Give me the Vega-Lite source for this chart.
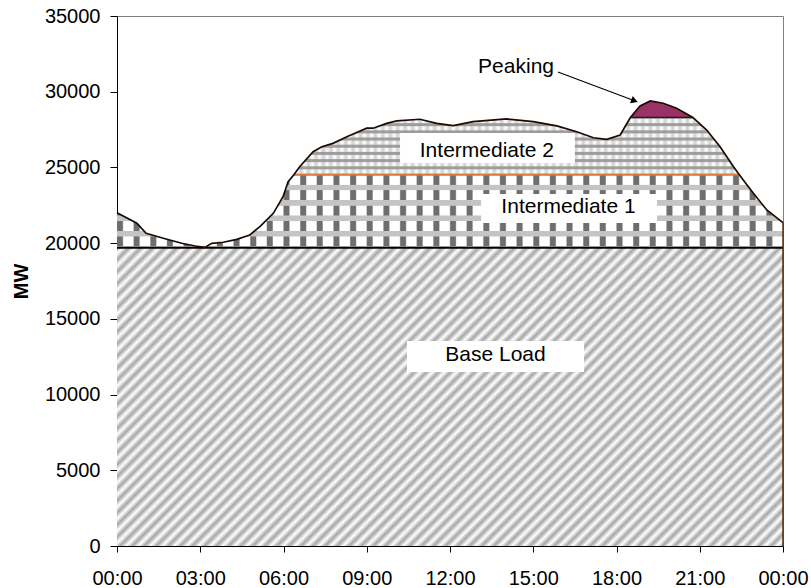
{
"$schema": "https://vega.github.io/schema/vega-lite/v6.json",
"width": 666, "height": 530,
"autosize": {"type": "none"},
"padding": {"left": 117, "top": 16, "right": 28, "bottom": 42},
"background": "white",
"config": {
  "view": {"stroke": "#808080", "strokeWidth": 1},
  "axis": {"labelFont": "Liberation Sans", "labelFontSize": 20, "labelColor": "#000", "tickColor": "#000", "domainColor": "#000", "grid": false, "labelFlush": false, "titleFont": "Liberation Sans", "titleColor": "#000"}
},
"datasets": {"load": [
{"h":0,"load":22010,"i1":22010,"i2":22010,"base":19700},
{"h":0.717,"load":21310,"i1":21310,"i2":21310,"base":19700},
{"h":1.05,"load":20650,"i1":20650,"i2":20650,"base":19700},
{"h":1.667,"load":20320,"i1":20320,"i2":20320,"base":19700},
{"h":2.333,"load":19990,"i1":19990,"i2":19990,"base":19700},
{"h":2.817,"load":19810,"i1":19810,"i2":19810,"base":19700},
{"h":3.167,"load":19720,"i1":19720,"i2":19720,"base":19700},
{"h":3.417,"load":19990,"i1":19990,"i2":19990,"base":19700},
{"h":3.833,"load":20060,"i1":20060,"i2":20060,"base":19700},
{"h":4.317,"load":20250,"i1":20250,"i2":20250,"base":19700},
{"h":4.783,"load":20540,"i1":20540,"i2":20540,"base":19700},
{"h":5.15,"load":21090,"i1":21090,"i2":21090,"base":19700},
{"h":5.633,"load":21970,"i1":21970,"i2":21970,"base":19700},
{"h":5.983,"load":23070,"i1":23070,"i2":23070,"base":19700},
{"h":6.167,"load":24060,"i1":24060,"i2":24060,"base":19700},
{"h":6.367,"load":24500,"i1":24500,"i2":24500,"base":19700},
{"h":6.583,"load":25050,"i1":24500,"i2":25050,"base":19700},
{"h":7.067,"load":26040,"i1":24500,"i2":26040,"base":19700},
{"h":7.383,"load":26370,"i1":24500,"i2":26370,"base":19700},
{"h":7.783,"load":26590,"i1":24500,"i2":26590,"base":19700},
{"h":8.283,"load":27030,"i1":24500,"i2":27030,"base":19700},
{"h":9,"load":27590,"i1":24500,"i2":27590,"base":19700},
{"h":9.233,"load":27590,"i1":24500,"i2":27590,"base":19700},
{"h":9.717,"load":27910,"i1":24500,"i2":27910,"base":19700},
{"h":10.083,"load":28070,"i1":24500,"i2":28070,"base":19700},
{"h":10.917,"load":28180,"i1":24500,"i2":28180,"base":19700},
{"h":11.517,"load":27910,"i1":24500,"i2":27910,"base":19700},
{"h":12.117,"load":27760,"i1":24500,"i2":27760,"base":19700},
{"h":12.833,"load":28020,"i1":24500,"i2":28020,"base":19700},
{"h":14.033,"load":28200,"i1":24500,"i2":28200,"base":19700},
{"h":15,"load":28020,"i1":24500,"i2":28020,"base":19700},
{"h":15.85,"load":27740,"i1":24500,"i2":27740,"base":19700},
{"h":16.567,"load":27360,"i1":24500,"i2":27360,"base":19700},
{"h":17.167,"load":26960,"i1":24500,"i2":26960,"base":19700},
{"h":17.65,"load":26860,"i1":24500,"i2":26860,"base":19700},
{"h":18.133,"load":27140,"i1":24500,"i2":27140,"base":19700},
{"h":18.5,"load":28300,"i1":24500,"i2":28300,"base":19700},
{"h":18.85,"load":29060,"i1":24500,"i2":28300,"base":19700},
{"h":19.217,"load":29390,"i1":24500,"i2":28300,"base":19700},
{"h":19.683,"load":29240,"i1":24500,"i2":28300,"base":19700},
{"h":20.167,"load":28910,"i1":24500,"i2":28300,"base":19700},
{"h":20.75,"load":28300,"i1":24500,"i2":28300,"base":19700},
{"h":21.25,"load":27470,"i1":24500,"i2":27470,"base":19700},
{"h":21.733,"load":26370,"i1":24500,"i2":26370,"base":19700},
{"h":22.217,"load":25050,"i1":24500,"i2":25050,"base":19700},
{"h":22.433,"load":24500,"i1":24500,"i2":24500,"base":19700},
{"h":22.567,"load":24170,"i1":24170,"i2":24170,"base":19700},
{"h":22.933,"load":23290,"i1":23290,"i2":23290,"base":19700},
{"h":23.417,"load":22190,"i1":22190,"i2":22190,"base":19700},
{"h":23.95,"load":21420,"i1":21420,"i2":21420,"base":19700},
{"h":24,"load":21350,"i1":21350,"i2":21350,"base":19700}
]},
"data": {"name": "load"},
"encoding": {
  "x": {"field": "h", "type": "quantitative", "title": null,
        "scale": {"domain": [0, 24], "nice": false, "zero": false},
        "axis": {"values": [0,3,6,9,12,15,18,21,24], "labelExpr": "(datum.value % 24 < 10 ? '0' : '') + (datum.value % 24) + ':00'", "tickSize": 6, "labelPadding": 16, "labelOverlap": false}}
},
"layer": [
{"mark": {"type": "area", "opacity": 1, "fill": {"gradient": "linear", "x1": 0, "y1": 0, "x2": 1.206, "y2": 0.54, "stops": [
{"offset":0,"color":"#a6a6a6"},{"offset":0.00625,"color":"#fff"},{"offset":0.0125,"color":"#a6a6a6"},{"offset":0.01875,"color":"#fff"},{"offset":0.025,"color":"#a6a6a6"},{"offset":0.03125,"color":"#fff"},{"offset":0.0375,"color":"#a6a6a6"},{"offset":0.04375,"color":"#fff"},
{"offset":0.05,"color":"#a6a6a6"},{"offset":0.05625,"color":"#fff"},{"offset":0.0625,"color":"#a6a6a6"},{"offset":0.06875,"color":"#fff"},{"offset":0.075,"color":"#a6a6a6"},{"offset":0.08125,"color":"#fff"},{"offset":0.0875,"color":"#a6a6a6"},{"offset":0.09375,"color":"#fff"},
{"offset":0.1,"color":"#a6a6a6"},{"offset":0.10625,"color":"#fff"},{"offset":0.1125,"color":"#a6a6a6"},{"offset":0.11875,"color":"#fff"},{"offset":0.125,"color":"#a6a6a6"},{"offset":0.13125,"color":"#fff"},{"offset":0.1375,"color":"#a6a6a6"},{"offset":0.14375,"color":"#fff"},
{"offset":0.15,"color":"#a6a6a6"},{"offset":0.15625,"color":"#fff"},{"offset":0.1625,"color":"#a6a6a6"},{"offset":0.16875,"color":"#fff"},{"offset":0.175,"color":"#a6a6a6"},{"offset":0.18125,"color":"#fff"},{"offset":0.1875,"color":"#a6a6a6"},{"offset":0.19375,"color":"#fff"},
{"offset":0.2,"color":"#a6a6a6"},{"offset":0.20625,"color":"#fff"},{"offset":0.2125,"color":"#a6a6a6"},{"offset":0.21875,"color":"#fff"},{"offset":0.225,"color":"#a6a6a6"},{"offset":0.23125,"color":"#fff"},{"offset":0.2375,"color":"#a6a6a6"},{"offset":0.24375,"color":"#fff"},
{"offset":0.25,"color":"#a6a6a6"},{"offset":0.25625,"color":"#fff"},{"offset":0.2625,"color":"#a6a6a6"},{"offset":0.26875,"color":"#fff"},{"offset":0.275,"color":"#a6a6a6"},{"offset":0.28125,"color":"#fff"},{"offset":0.2875,"color":"#a6a6a6"},{"offset":0.29375,"color":"#fff"},
{"offset":0.3,"color":"#a6a6a6"},{"offset":0.30625,"color":"#fff"},{"offset":0.3125,"color":"#a6a6a6"},{"offset":0.31875,"color":"#fff"},{"offset":0.325,"color":"#a6a6a6"},{"offset":0.33125,"color":"#fff"},{"offset":0.3375,"color":"#a6a6a6"},{"offset":0.34375,"color":"#fff"},
{"offset":0.35,"color":"#a6a6a6"},{"offset":0.35625,"color":"#fff"},{"offset":0.3625,"color":"#a6a6a6"},{"offset":0.36875,"color":"#fff"},{"offset":0.375,"color":"#a6a6a6"},{"offset":0.38125,"color":"#fff"},{"offset":0.3875,"color":"#a6a6a6"},{"offset":0.39375,"color":"#fff"},
{"offset":0.4,"color":"#a6a6a6"},{"offset":0.40625,"color":"#fff"},{"offset":0.4125,"color":"#a6a6a6"},{"offset":0.41875,"color":"#fff"},{"offset":0.425,"color":"#a6a6a6"},{"offset":0.43125,"color":"#fff"},{"offset":0.4375,"color":"#a6a6a6"},{"offset":0.44375,"color":"#fff"},
{"offset":0.45,"color":"#a6a6a6"},{"offset":0.45625,"color":"#fff"},{"offset":0.4625,"color":"#a6a6a6"},{"offset":0.46875,"color":"#fff"},{"offset":0.475,"color":"#a6a6a6"},{"offset":0.48125,"color":"#fff"},{"offset":0.4875,"color":"#a6a6a6"},{"offset":0.49375,"color":"#fff"},
{"offset":0.5,"color":"#a6a6a6"},{"offset":0.50625,"color":"#fff"},{"offset":0.5125,"color":"#a6a6a6"},{"offset":0.51875,"color":"#fff"},{"offset":0.525,"color":"#a6a6a6"},{"offset":0.53125,"color":"#fff"},{"offset":0.5375,"color":"#a6a6a6"},{"offset":0.54375,"color":"#fff"},
{"offset":0.55,"color":"#a6a6a6"},{"offset":0.55625,"color":"#fff"},{"offset":0.5625,"color":"#a6a6a6"},{"offset":0.56875,"color":"#fff"},{"offset":0.575,"color":"#a6a6a6"},{"offset":0.58125,"color":"#fff"},{"offset":0.5875,"color":"#a6a6a6"},{"offset":0.59375,"color":"#fff"},
{"offset":0.6,"color":"#a6a6a6"},{"offset":0.60625,"color":"#fff"},{"offset":0.6125,"color":"#a6a6a6"},{"offset":0.61875,"color":"#fff"},{"offset":0.625,"color":"#a6a6a6"},{"offset":0.63125,"color":"#fff"},{"offset":0.6375,"color":"#a6a6a6"},{"offset":0.64375,"color":"#fff"},
{"offset":0.65,"color":"#a6a6a6"},{"offset":0.65625,"color":"#fff"},{"offset":0.6625,"color":"#a6a6a6"},{"offset":0.66875,"color":"#fff"},{"offset":0.675,"color":"#a6a6a6"},{"offset":0.68125,"color":"#fff"},{"offset":0.6875,"color":"#a6a6a6"},{"offset":0.69375,"color":"#fff"},
{"offset":0.7,"color":"#a6a6a6"},{"offset":0.70625,"color":"#fff"},{"offset":0.7125,"color":"#a6a6a6"},{"offset":0.71875,"color":"#fff"},{"offset":0.725,"color":"#a6a6a6"},{"offset":0.73125,"color":"#fff"},{"offset":0.7375,"color":"#a6a6a6"},{"offset":0.74375,"color":"#fff"},
{"offset":0.75,"color":"#a6a6a6"},{"offset":0.75625,"color":"#fff"},{"offset":0.7625,"color":"#a6a6a6"},{"offset":0.76875,"color":"#fff"},{"offset":0.775,"color":"#a6a6a6"},{"offset":0.78125,"color":"#fff"},{"offset":0.7875,"color":"#a6a6a6"},{"offset":0.79375,"color":"#fff"},
{"offset":0.8,"color":"#a6a6a6"},{"offset":0.80625,"color":"#fff"},{"offset":0.8125,"color":"#a6a6a6"},{"offset":0.81875,"color":"#fff"},{"offset":0.825,"color":"#a6a6a6"},{"offset":0.83125,"color":"#fff"},{"offset":0.8375,"color":"#a6a6a6"},{"offset":0.84375,"color":"#fff"},
{"offset":0.85,"color":"#a6a6a6"},{"offset":0.85625,"color":"#fff"},{"offset":0.8625,"color":"#a6a6a6"},{"offset":0.86875,"color":"#fff"},{"offset":0.875,"color":"#a6a6a6"},{"offset":0.88125,"color":"#fff"},{"offset":0.8875,"color":"#a6a6a6"},{"offset":0.89375,"color":"#fff"},
{"offset":0.9,"color":"#a6a6a6"},{"offset":0.90625,"color":"#fff"},{"offset":0.9125,"color":"#a6a6a6"},{"offset":0.91875,"color":"#fff"},{"offset":0.925,"color":"#a6a6a6"},{"offset":0.93125,"color":"#fff"},{"offset":0.9375,"color":"#a6a6a6"},{"offset":0.94375,"color":"#fff"},
{"offset":0.95,"color":"#a6a6a6"},{"offset":0.95625,"color":"#fff"},{"offset":0.9625,"color":"#a6a6a6"},{"offset":0.96875,"color":"#fff"},{"offset":0.975,"color":"#a6a6a6"},{"offset":0.98125,"color":"#fff"},{"offset":0.9875,"color":"#a6a6a6"},{"offset":0.99375,"color":"#fff"},
{"offset":1,"color":"#a6a6a6"}]}},
 "encoding": {"y": {"field": "base", "type": "quantitative", "title": "MW",
   "scale": {"domain": [0, 35000], "nice": false},
   "axis": {"values": [0,5000,10000,15000,20000,25000,30000,35000], "format": "d", "tickSize": 7, "labelPadding": 10, "titleFontSize": 20, "titleFontWeight": "bold", "titlePadding": 13}},
  "y2": {"datum": 0}}},
{"mark": {"type": "area", "opacity": 1, "fill": {"gradient": "linear", "x1": 0, "y1": 0, "x2": 1, "y2": 0, "stops": [
{"offset":0.001,"color":"#6e6e6e"},{"offset":0.008,"color":"#6e6e6e"},{"offset":0.010,"color":"#fff"},{"offset":0.024,"color":"#fff"},
{"offset":0.026,"color":"#6e6e6e"},{"offset":0.033,"color":"#6e6e6e"},{"offset":0.035,"color":"#fff"},{"offset":0.049,"color":"#fff"},
{"offset":0.051,"color":"#6e6e6e"},{"offset":0.058,"color":"#6e6e6e"},{"offset":0.060,"color":"#fff"},{"offset":0.074,"color":"#fff"},
{"offset":0.076,"color":"#6e6e6e"},{"offset":0.083,"color":"#6e6e6e"},{"offset":0.085,"color":"#fff"},{"offset":0.099,"color":"#fff"},
{"offset":0.101,"color":"#6e6e6e"},{"offset":0.108,"color":"#6e6e6e"},{"offset":0.110,"color":"#fff"},{"offset":0.124,"color":"#fff"},
{"offset":0.126,"color":"#6e6e6e"},{"offset":0.133,"color":"#6e6e6e"},{"offset":0.135,"color":"#fff"},{"offset":0.149,"color":"#fff"},
{"offset":0.151,"color":"#6e6e6e"},{"offset":0.158,"color":"#6e6e6e"},{"offset":0.160,"color":"#fff"},{"offset":0.174,"color":"#fff"},
{"offset":0.176,"color":"#6e6e6e"},{"offset":0.183,"color":"#6e6e6e"},{"offset":0.185,"color":"#fff"},{"offset":0.199,"color":"#fff"},
{"offset":0.201,"color":"#6e6e6e"},{"offset":0.208,"color":"#6e6e6e"},{"offset":0.210,"color":"#fff"},{"offset":0.224,"color":"#fff"},
{"offset":0.226,"color":"#6e6e6e"},{"offset":0.233,"color":"#6e6e6e"},{"offset":0.235,"color":"#fff"},{"offset":0.249,"color":"#fff"},
{"offset":0.251,"color":"#6e6e6e"},{"offset":0.258,"color":"#6e6e6e"},{"offset":0.260,"color":"#fff"},{"offset":0.274,"color":"#fff"},
{"offset":0.276,"color":"#6e6e6e"},{"offset":0.283,"color":"#6e6e6e"},{"offset":0.285,"color":"#fff"},{"offset":0.299,"color":"#fff"},
{"offset":0.301,"color":"#6e6e6e"},{"offset":0.308,"color":"#6e6e6e"},{"offset":0.310,"color":"#fff"},{"offset":0.324,"color":"#fff"},
{"offset":0.326,"color":"#6e6e6e"},{"offset":0.333,"color":"#6e6e6e"},{"offset":0.335,"color":"#fff"},{"offset":0.349,"color":"#fff"},
{"offset":0.351,"color":"#6e6e6e"},{"offset":0.358,"color":"#6e6e6e"},{"offset":0.360,"color":"#fff"},{"offset":0.374,"color":"#fff"},
{"offset":0.376,"color":"#6e6e6e"},{"offset":0.383,"color":"#6e6e6e"},{"offset":0.385,"color":"#fff"},{"offset":0.399,"color":"#fff"},
{"offset":0.401,"color":"#6e6e6e"},{"offset":0.408,"color":"#6e6e6e"},{"offset":0.410,"color":"#fff"},{"offset":0.424,"color":"#fff"},
{"offset":0.426,"color":"#6e6e6e"},{"offset":0.433,"color":"#6e6e6e"},{"offset":0.435,"color":"#fff"},{"offset":0.449,"color":"#fff"},
{"offset":0.451,"color":"#6e6e6e"},{"offset":0.458,"color":"#6e6e6e"},{"offset":0.460,"color":"#fff"},{"offset":0.474,"color":"#fff"},
{"offset":0.476,"color":"#6e6e6e"},{"offset":0.483,"color":"#6e6e6e"},{"offset":0.485,"color":"#fff"},{"offset":0.499,"color":"#fff"},
{"offset":0.501,"color":"#6e6e6e"},{"offset":0.508,"color":"#6e6e6e"},{"offset":0.510,"color":"#fff"},{"offset":0.524,"color":"#fff"},
{"offset":0.526,"color":"#6e6e6e"},{"offset":0.533,"color":"#6e6e6e"},{"offset":0.535,"color":"#fff"},{"offset":0.549,"color":"#fff"},
{"offset":0.551,"color":"#6e6e6e"},{"offset":0.558,"color":"#6e6e6e"},{"offset":0.560,"color":"#fff"},{"offset":0.574,"color":"#fff"},
{"offset":0.576,"color":"#6e6e6e"},{"offset":0.583,"color":"#6e6e6e"},{"offset":0.585,"color":"#fff"},{"offset":0.599,"color":"#fff"},
{"offset":0.601,"color":"#6e6e6e"},{"offset":0.608,"color":"#6e6e6e"},{"offset":0.610,"color":"#fff"},{"offset":0.624,"color":"#fff"},
{"offset":0.626,"color":"#6e6e6e"},{"offset":0.633,"color":"#6e6e6e"},{"offset":0.635,"color":"#fff"},{"offset":0.649,"color":"#fff"},
{"offset":0.651,"color":"#6e6e6e"},{"offset":0.658,"color":"#6e6e6e"},{"offset":0.660,"color":"#fff"},{"offset":0.674,"color":"#fff"},
{"offset":0.676,"color":"#6e6e6e"},{"offset":0.683,"color":"#6e6e6e"},{"offset":0.685,"color":"#fff"},{"offset":0.699,"color":"#fff"},
{"offset":0.701,"color":"#6e6e6e"},{"offset":0.708,"color":"#6e6e6e"},{"offset":0.710,"color":"#fff"},{"offset":0.724,"color":"#fff"},
{"offset":0.726,"color":"#6e6e6e"},{"offset":0.733,"color":"#6e6e6e"},{"offset":0.735,"color":"#fff"},{"offset":0.749,"color":"#fff"},
{"offset":0.751,"color":"#6e6e6e"},{"offset":0.758,"color":"#6e6e6e"},{"offset":0.760,"color":"#fff"},{"offset":0.774,"color":"#fff"},
{"offset":0.776,"color":"#6e6e6e"},{"offset":0.783,"color":"#6e6e6e"},{"offset":0.785,"color":"#fff"},{"offset":0.799,"color":"#fff"},
{"offset":0.801,"color":"#6e6e6e"},{"offset":0.808,"color":"#6e6e6e"},{"offset":0.810,"color":"#fff"},{"offset":0.824,"color":"#fff"},
{"offset":0.826,"color":"#6e6e6e"},{"offset":0.833,"color":"#6e6e6e"},{"offset":0.835,"color":"#fff"},{"offset":0.849,"color":"#fff"},
{"offset":0.851,"color":"#6e6e6e"},{"offset":0.858,"color":"#6e6e6e"},{"offset":0.860,"color":"#fff"},{"offset":0.874,"color":"#fff"},
{"offset":0.876,"color":"#6e6e6e"},{"offset":0.883,"color":"#6e6e6e"},{"offset":0.885,"color":"#fff"},{"offset":0.899,"color":"#fff"},
{"offset":0.901,"color":"#6e6e6e"},{"offset":0.908,"color":"#6e6e6e"},{"offset":0.910,"color":"#fff"},{"offset":0.924,"color":"#fff"},
{"offset":0.926,"color":"#6e6e6e"},{"offset":0.933,"color":"#6e6e6e"},{"offset":0.935,"color":"#fff"},{"offset":0.949,"color":"#fff"},
{"offset":0.951,"color":"#6e6e6e"},{"offset":0.958,"color":"#6e6e6e"},{"offset":0.960,"color":"#fff"},{"offset":0.974,"color":"#fff"},
{"offset":0.976,"color":"#6e6e6e"},{"offset":0.983,"color":"#6e6e6e"},{"offset":0.985,"color":"#fff"},{"offset":0.999,"color":"#fff"}]}},
 "encoding": {"y": {"field": "i1", "type": "quantitative", "title": "MW"}, "y2": {"field": "base"}}},
{"mark": {"type": "area", "opacity": 1, "fill": {"gradient": "linear", "x1": 0, "y1": 0, "x2": 0, "y2": 1, "stops": [
{"offset":0.13,"color":"rgba(196,196,196,0)"},{"offset":0.138,"color":"#c4c4c4"},{"offset":0.206,"color":"#c4c4c4"},{"offset":0.214,"color":"rgba(196,196,196,0)"},
{"offset":0.342,"color":"rgba(196,196,196,0)"},{"offset":0.35,"color":"#c4c4c4"},{"offset":0.418,"color":"#c4c4c4"},{"offset":0.426,"color":"rgba(196,196,196,0)"},
{"offset":0.553,"color":"rgba(196,196,196,0)"},{"offset":0.561,"color":"#c4c4c4"},{"offset":0.63,"color":"#c4c4c4"},{"offset":0.638,"color":"rgba(196,196,196,0)"},
{"offset":0.765,"color":"rgba(196,196,196,0)"},{"offset":0.773,"color":"#c4c4c4"},{"offset":0.842,"color":"#c4c4c4"},{"offset":0.85,"color":"rgba(196,196,196,0)"},
{"offset":0.977,"color":"rgba(196,196,196,0)"},{"offset":0.985,"color":"#c4c4c4"},{"offset":1,"color":"#c4c4c4"}]}},
 "encoding": {"y": {"field": "i1", "type": "quantitative", "title": "MW"}, "y2": {"field": "base"}}},
{"transform": [{"filter": "datum.load >= 24500"}],
 "mark": {"type": "area", "opacity": 1, "fill": {"gradient": "linear", "x1": 0, "y1": 0, "x2": 0, "y2": 1, "stops": [
{"offset":0,"color":"#a0a0a0"},{"offset":0.018,"color":"#a0a0a0"},{"offset":0.035,"color":"#fff"},
{"offset":0.09,"color":"#fff"},{"offset":0.107,"color":"#a0a0a0"},{"offset":0.143,"color":"#a0a0a0"},{"offset":0.16,"color":"#fff"},
{"offset":0.215,"color":"#fff"},{"offset":0.232,"color":"#a0a0a0"},{"offset":0.268,"color":"#a0a0a0"},{"offset":0.285,"color":"#fff"},
{"offset":0.34,"color":"#fff"},{"offset":0.357,"color":"#a0a0a0"},{"offset":0.393,"color":"#a0a0a0"},{"offset":0.41,"color":"#fff"},
{"offset":0.465,"color":"#fff"},{"offset":0.482,"color":"#a0a0a0"},{"offset":0.518,"color":"#a0a0a0"},{"offset":0.535,"color":"#fff"},
{"offset":0.59,"color":"#fff"},{"offset":0.607,"color":"#a0a0a0"},{"offset":0.643,"color":"#a0a0a0"},{"offset":0.66,"color":"#fff"},
{"offset":0.715,"color":"#fff"},{"offset":0.732,"color":"#a0a0a0"},{"offset":0.768,"color":"#a0a0a0"},{"offset":0.785,"color":"#fff"},
{"offset":0.84,"color":"#fff"},{"offset":0.857,"color":"#a0a0a0"},{"offset":0.893,"color":"#a0a0a0"},{"offset":0.91,"color":"#fff"},
{"offset":0.965,"color":"#fff"},{"offset":0.982,"color":"#a0a0a0"},{"offset":1,"color":"#a0a0a0"}]}},
 "encoding": {"y": {"field": "i2", "type": "quantitative", "title": "MW"}, "y2": {"field": "i1"}}},
{"transform": [{"filter": "datum.load >= 24500"}],
 "mark": {"type": "area", "opacity": 1, "fill": {"gradient": "linear", "x1": 0, "y1": 0, "x2": 1, "y2": 0, "stops": [
{"offset":0,"color":"rgba(150,150,150,0.45)"},{"offset":0.0083,"color":"rgba(150,150,150,0)"},{"offset":0.0167,"color":"rgba(150,150,150,0.45)"},{"offset":0.025,"color":"rgba(150,150,150,0)"},{"offset":0.0333,"color":"rgba(150,150,150,0.45)"},{"offset":0.0417,"color":"rgba(150,150,150,0)"},
{"offset":0.05,"color":"rgba(150,150,150,0.45)"},{"offset":0.0583,"color":"rgba(150,150,150,0)"},{"offset":0.0667,"color":"rgba(150,150,150,0.45)"},{"offset":0.075,"color":"rgba(150,150,150,0)"},{"offset":0.0833,"color":"rgba(150,150,150,0.45)"},{"offset":0.0917,"color":"rgba(150,150,150,0)"},
{"offset":0.1,"color":"rgba(150,150,150,0.45)"},{"offset":0.1083,"color":"rgba(150,150,150,0)"},{"offset":0.1167,"color":"rgba(150,150,150,0.45)"},{"offset":0.125,"color":"rgba(150,150,150,0)"},{"offset":0.1333,"color":"rgba(150,150,150,0.45)"},{"offset":0.1417,"color":"rgba(150,150,150,0)"},
{"offset":0.15,"color":"rgba(150,150,150,0.45)"},{"offset":0.1583,"color":"rgba(150,150,150,0)"},{"offset":0.1667,"color":"rgba(150,150,150,0.45)"},{"offset":0.175,"color":"rgba(150,150,150,0)"},{"offset":0.1833,"color":"rgba(150,150,150,0.45)"},{"offset":0.1917,"color":"rgba(150,150,150,0)"},
{"offset":0.2,"color":"rgba(150,150,150,0.45)"},{"offset":0.2083,"color":"rgba(150,150,150,0)"},{"offset":0.2167,"color":"rgba(150,150,150,0.45)"},{"offset":0.225,"color":"rgba(150,150,150,0)"},{"offset":0.2333,"color":"rgba(150,150,150,0.45)"},{"offset":0.2417,"color":"rgba(150,150,150,0)"},
{"offset":0.25,"color":"rgba(150,150,150,0.45)"},{"offset":0.2583,"color":"rgba(150,150,150,0)"},{"offset":0.2667,"color":"rgba(150,150,150,0.45)"},{"offset":0.275,"color":"rgba(150,150,150,0)"},{"offset":0.2833,"color":"rgba(150,150,150,0.45)"},{"offset":0.2917,"color":"rgba(150,150,150,0)"},
{"offset":0.3,"color":"rgba(150,150,150,0.45)"},{"offset":0.3083,"color":"rgba(150,150,150,0)"},{"offset":0.3167,"color":"rgba(150,150,150,0.45)"},{"offset":0.325,"color":"rgba(150,150,150,0)"},{"offset":0.3333,"color":"rgba(150,150,150,0.45)"},{"offset":0.3417,"color":"rgba(150,150,150,0)"},
{"offset":0.35,"color":"rgba(150,150,150,0.45)"},{"offset":0.3583,"color":"rgba(150,150,150,0)"},{"offset":0.3667,"color":"rgba(150,150,150,0.45)"},{"offset":0.375,"color":"rgba(150,150,150,0)"},{"offset":0.3833,"color":"rgba(150,150,150,0.45)"},{"offset":0.3917,"color":"rgba(150,150,150,0)"},
{"offset":0.4,"color":"rgba(150,150,150,0.45)"},{"offset":0.4083,"color":"rgba(150,150,150,0)"},{"offset":0.4167,"color":"rgba(150,150,150,0.45)"},{"offset":0.425,"color":"rgba(150,150,150,0)"},{"offset":0.4333,"color":"rgba(150,150,150,0.45)"},{"offset":0.4417,"color":"rgba(150,150,150,0)"},
{"offset":0.45,"color":"rgba(150,150,150,0.45)"},{"offset":0.4583,"color":"rgba(150,150,150,0)"},{"offset":0.4667,"color":"rgba(150,150,150,0.45)"},{"offset":0.475,"color":"rgba(150,150,150,0)"},{"offset":0.4833,"color":"rgba(150,150,150,0.45)"},{"offset":0.4917,"color":"rgba(150,150,150,0)"},
{"offset":0.5,"color":"rgba(150,150,150,0.45)"},{"offset":0.5083,"color":"rgba(150,150,150,0)"},{"offset":0.5167,"color":"rgba(150,150,150,0.45)"},{"offset":0.525,"color":"rgba(150,150,150,0)"},{"offset":0.5333,"color":"rgba(150,150,150,0.45)"},{"offset":0.5417,"color":"rgba(150,150,150,0)"},
{"offset":0.55,"color":"rgba(150,150,150,0.45)"},{"offset":0.5583,"color":"rgba(150,150,150,0)"},{"offset":0.5667,"color":"rgba(150,150,150,0.45)"},{"offset":0.575,"color":"rgba(150,150,150,0)"},{"offset":0.5833,"color":"rgba(150,150,150,0.45)"},{"offset":0.5917,"color":"rgba(150,150,150,0)"},
{"offset":0.6,"color":"rgba(150,150,150,0.45)"},{"offset":0.6083,"color":"rgba(150,150,150,0)"},{"offset":0.6167,"color":"rgba(150,150,150,0.45)"},{"offset":0.625,"color":"rgba(150,150,150,0)"},{"offset":0.6333,"color":"rgba(150,150,150,0.45)"},{"offset":0.6417,"color":"rgba(150,150,150,0)"},
{"offset":0.65,"color":"rgba(150,150,150,0.45)"},{"offset":0.6583,"color":"rgba(150,150,150,0)"},{"offset":0.6667,"color":"rgba(150,150,150,0.45)"},{"offset":0.675,"color":"rgba(150,150,150,0)"},{"offset":0.6833,"color":"rgba(150,150,150,0.45)"},{"offset":0.6917,"color":"rgba(150,150,150,0)"},
{"offset":0.7,"color":"rgba(150,150,150,0.45)"},{"offset":0.7083,"color":"rgba(150,150,150,0)"},{"offset":0.7167,"color":"rgba(150,150,150,0.45)"},{"offset":0.725,"color":"rgba(150,150,150,0)"},{"offset":0.7333,"color":"rgba(150,150,150,0.45)"},{"offset":0.7417,"color":"rgba(150,150,150,0)"},
{"offset":0.75,"color":"rgba(150,150,150,0.45)"},{"offset":0.7583,"color":"rgba(150,150,150,0)"},{"offset":0.7667,"color":"rgba(150,150,150,0.45)"},{"offset":0.775,"color":"rgba(150,150,150,0)"},{"offset":0.7833,"color":"rgba(150,150,150,0.45)"},{"offset":0.7917,"color":"rgba(150,150,150,0)"},
{"offset":0.8,"color":"rgba(150,150,150,0.45)"},{"offset":0.8083,"color":"rgba(150,150,150,0)"},{"offset":0.8167,"color":"rgba(150,150,150,0.45)"},{"offset":0.825,"color":"rgba(150,150,150,0)"},{"offset":0.8333,"color":"rgba(150,150,150,0.45)"},{"offset":0.8417,"color":"rgba(150,150,150,0)"},
{"offset":0.85,"color":"rgba(150,150,150,0.45)"},{"offset":0.8583,"color":"rgba(150,150,150,0)"},{"offset":0.8667,"color":"rgba(150,150,150,0.45)"},{"offset":0.875,"color":"rgba(150,150,150,0)"},{"offset":0.8833,"color":"rgba(150,150,150,0.45)"},{"offset":0.8917,"color":"rgba(150,150,150,0)"},
{"offset":0.9,"color":"rgba(150,150,150,0.45)"},{"offset":0.9083,"color":"rgba(150,150,150,0)"},{"offset":0.9167,"color":"rgba(150,150,150,0.45)"},{"offset":0.925,"color":"rgba(150,150,150,0)"},{"offset":0.9333,"color":"rgba(150,150,150,0.45)"},{"offset":0.9417,"color":"rgba(150,150,150,0)"},
{"offset":0.95,"color":"rgba(150,150,150,0.45)"},{"offset":0.9583,"color":"rgba(150,150,150,0)"},{"offset":0.9667,"color":"rgba(150,150,150,0.45)"},{"offset":0.975,"color":"rgba(150,150,150,0)"},{"offset":0.9833,"color":"rgba(150,150,150,0.45)"},{"offset":0.9917,"color":"rgba(150,150,150,0)"},
{"offset":1,"color":"rgba(150,150,150,0.45)"}]}},
 "encoding": {"y": {"field": "i2", "type": "quantitative", "title": "MW"}, "y2": {"field": "i1"}}},
{"transform": [{"filter": "datum.load >= 28300"}],
 "mark": {"type": "area", "opacity": 1, "fill": "#993366"},
 "encoding": {"y": {"field": "load", "type": "quantitative", "title": "MW"}, "y2": {"field": "i2"}}},
{"mark": {"type": "line", "color": "#000", "strokeWidth": 2},
 "encoding": {"y": {"field": "base", "type": "quantitative", "title": "MW"}}},
{"transform": [{"filter": "datum.load >= 24500"}],
 "mark": {"type": "line", "color": "#e8701e", "strokeWidth": 1.3},
 "encoding": {"y": {"field": "i1", "type": "quantitative", "title": "MW"}}},
{"transform": [{"filter": "datum.load >= 28300"}],
 "mark": {"type": "line", "color": "#3a1010", "strokeWidth": 1.3},
 "encoding": {"y": {"field": "i2", "type": "quantitative", "title": "MW"}}},
{"mark": {"type": "line", "color": "#1a0a00", "strokeWidth": 1.7},
 "encoding": {"y": {"field": "load", "type": "quantitative", "title": "MW"}}},
{"data": {"values": [{"h": 24, "lo": 0, "hi": 21350}]},
 "mark": {"type": "rule", "color": "#5a2d0c", "strokeWidth": 1.5},
 "encoding": {"y": {"field": "lo", "type": "quantitative", "title": "MW"}, "y2": {"field": "hi"}}},
{"data": {"values": [
  {"h": 10.2, "h2": 16.5, "lo": 25293, "hi": 27275},
  {"h": 13.12, "h2": 19.46, "lo": 21331, "hi": 23246},
  {"h": 10.45, "h2": 16.83, "lo": 11491, "hi": 13538}]},
 "mark": {"type": "rect", "fill": "#fff", "opacity": 1},
 "encoding": {"x2": {"field": "h2"}, "y": {"field": "lo", "type": "quantitative", "title": "MW"}, "y2": {"field": "hi"}}},
{"data": {"values": [
  {"h": 14.38, "v": 31633, "label": "Peaking"},
  {"h": 13.33, "v": 26086, "label": "Intermediate 2"},
  {"h": 16.27, "v": 22355, "label": "Intermediate 1"},
  {"h": 13.64, "v": 12614, "label": "Base Load"}]},
 "mark": {"type": "text", "font": "Liberation Sans", "fontSize": 21, "color": "#000", "align": "center", "baseline": "middle"},
 "encoding": {"y": {"field": "v", "type": "quantitative", "title": "MW"}, "text": {"field": "label"}}},
{"data": {"values": [{"h": 15.89, "v": 31303}, {"h": 18.65, "v": 29404}]},
 "mark": {"type": "line", "color": "#000", "strokeWidth": 1.2},
 "encoding": {"y": {"field": "v", "type": "quantitative", "title": "MW"}}},
{"data": {"values": [{"h": 18.65, "v": 29404}]},
 "mark": {"type": "point", "shape": "triangle-right", "filled": true, "color": "#000", "size": 60, "angle": 20.5, "opacity": 1},
 "encoding": {"y": {"field": "v", "type": "quantitative", "title": "MW"}}}
]
}
